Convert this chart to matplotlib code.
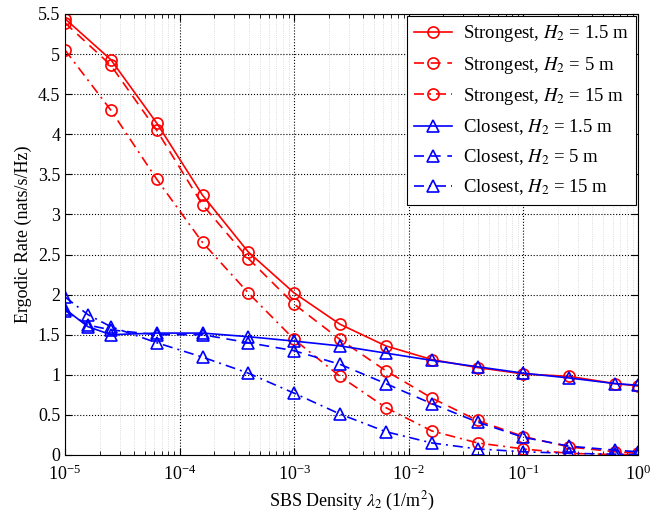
import numpy as np
import matplotlib.pyplot as plt

plt.rcParams['font.family'] = ['Liberation Serif', 'DejaVu Serif']
plt.rcParams['mathtext.fontset'] = 'stix'

# log10 of SBS density
exp_red = [-5, -4.6, -4.2, -3.8, -3.4, -3, -2.6, -2.2, -1.8, -1.4, -1, -0.6, -0.2, 0]
exp_blue = [-5, -4.8, -4.6, -4.2, -3.8, -3.4, -3, -2.6, -2.2, -1.8, -1.4, -1, -0.6, -0.2, 0]

strong_15 = [5.44, 4.93, 4.14, 3.24, 2.53, 2.02, 1.63, 1.36, 1.19, 1.09, 1.01, 0.98, 0.89, 0.86]
strong_5 = [5.39, 4.86, 4.05, 3.12, 2.45, 1.88, 1.44, 1.05, 0.71, 0.43, 0.23, 0.10, 0.04, 0.02]
strong_15m = [5.05, 4.30, 3.44, 2.65, 2.02, 1.44, 0.98, 0.59, 0.30, 0.15, 0.075, 0.02, 0.005, 0.0]

close_15 = [1.82, 1.60, 1.50, 1.52, 1.52, 1.475, 1.42, 1.36, 1.27, 1.18, 1.10, 1.02, 0.96, 0.89, 0.87]
close_5 = [1.80, 1.62, 1.56, 1.50, 1.50, 1.40, 1.30, 1.13, 0.89, 0.64, 0.41, 0.22, 0.11, 0.06, 0.04]
close_15m = [1.97, 1.75, 1.60, 1.40, 1.22, 1.02, 0.77, 0.51, 0.29, 0.15, 0.075, 0.04, 0.02, 0.01, 0.005]

xr = 10.0 ** np.array(exp_red)
xb = 10.0 ** np.array(exp_blue)

dash = (0, (6, 4))
dashdot = (0, (6, 3, 1.2, 3))

fig = plt.figure(figsize=(6.52, 5.17), dpi=100)
ax = fig.add_axes([0.0997, 0.12, 0.8788, 0.853])

kw = dict(lw=1.2, ms=8, mfc='none', mew=1.2)
ax.plot(xr, strong_15, color='r', ls='-', marker='o', label=r'Strongest, $H_2$ = 1.5 m', **kw)
ax.plot(xr, strong_5, color='r', ls=dash, marker='o', label=r'Strongest, $H_2$ = 5 m', **kw)
ax.plot(xr, strong_15m, color='r', ls=dashdot, marker='o', label=r'Strongest, $H_2$ = 15 m', **kw)
ax.plot(xb, close_15, color='b', ls='-', marker='^', label=r'Closest, $H_2$ = 1.5 m', **kw)
ax.plot(xb, close_5, color='b', ls=dash, marker='^', label=r'Closest, $H_2$ = 5 m', **kw)
ax.plot(xb, close_15m, color='b', ls=dashdot, marker='^', label=r'Closest, $H_2$ = 15 m', **kw)

ax.set_xscale('log')
ax.set_xlim(1e-5, 1)
ax.set_ylim(0, 5.5)
ax.set_yticks(np.arange(0, 5.51, 0.5))
ax.set_yticklabels(['0', '0.5', '1', '1.5', '2', '2.5', '3', '3.5', '4', '4.5', '5', '5.5'])

ax.grid(True, which='major', ls=':', color='k', lw=0.8)
ax.grid(True, which='minor', ls=':', color='0.82', lw=0.6)
ax.tick_params(which='both', direction='in', top=True, right=True, labelsize=13)
ax.tick_params(which='major', length=5)
ax.tick_params(which='minor', length=3)
ax.tick_params(axis='x', pad=7)

ax.set_xlabel(r'SBS Density $\lambda_2$ (1/m$^2$)', fontsize=13)
ax.set_ylabel('Ergodic Rate (nats/s/Hz)', fontsize=13)

leg = ax.legend(loc='upper right', fontsize=13.5, fancybox=False, edgecolor='k',
                framealpha=1, handlelength=2.0, borderaxespad=0.1, labelspacing=0.55,
                handletextpad=0.6)
leg.get_frame().set_linewidth(0.8)

fig.savefig('out.png', dpi=100)
